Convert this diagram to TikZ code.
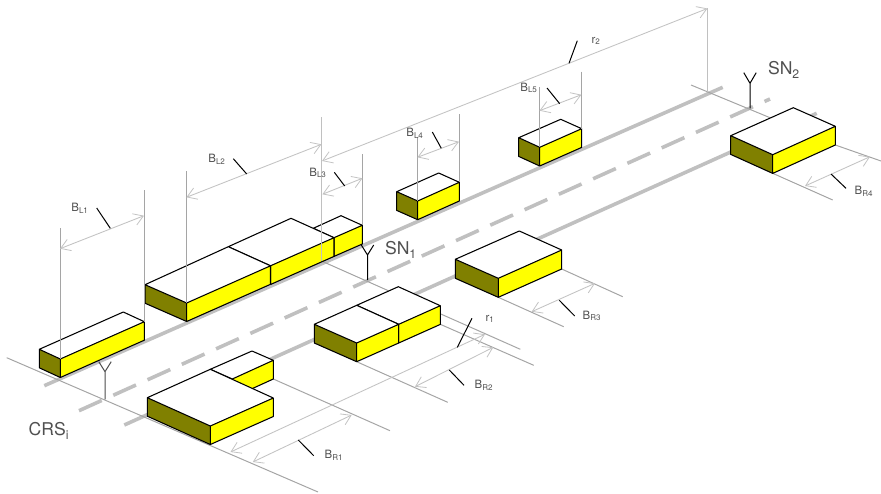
\documentclass[tikz,border=0pt]{standalone}
\usepackage{fontspec}
\setmainfont{TeX Gyre Heros}
\usetikzlibrary{arrows.meta}
\definecolor{olivef}{RGB}{128,128,0}
\definecolor{yellowf}{RGB}{255,255,0}
\definecolor{labelc}{RGB}{80,80,80}
\definecolor{roadc}{RGB}{192,192,192}
\definecolor{crossc}{RGB}{165,165,165}
\definecolor{dimc}{RGB}{195,195,195}
\tikzset{
  road/.style={draw=roadc,line width=2.7pt},
  roaddash/.style={road,dash pattern=on 18.7pt off 9.5pt},
  cross/.style={draw=crossc,line width=0.75pt},
  vert/.style={draw=crossc,line width=0.75pt},
  vertheavy/.style={draw=roadc,line width=1.1pt},
  dimline/.style={draw=dimc,line width=0.65pt,{Straight Barb[length=7pt,width=9pt,line width=0.6pt]}-{Straight Barb[length=7pt,width=9pt,line width=0.6pt]}},
  leader/.style={draw=black,line width=0.75pt},
  edge/.style={draw=black,line width=0.8pt,line join=round},
  big/.style={text=labelc,inner sep=0pt,font=\fontsize{13.2}{14}\selectfont},
  small/.style={text=labelc,inner sep=0pt,font=\fontsize{8.6}{9}\selectfont},
  ant/.style={draw=black,line width=0.75pt}
}
% full box: left-top, front-top, right-top, back-top, height
\newcommand{\boxthing}[9]{%
  \fill[yellowf] (#3,#4)--(#5,#6)--(#5,#6+#9)--(#3,#4+#9)--cycle;
  \fill[olivef] (#1,#2)--(#3,#4)--(#3,#4+#9)--(#1,#2+#9)--cycle;
  \fill[white] (#1,#2)--(#3,#4)--(#5,#6)--(#7,#8)--cycle;
  \draw[edge] (#1,#2)--(#3,#4)--(#5,#6)--(#7,#8)--cycle (#1,#2)--(#1,#2+#9)--(#3,#4+#9)--(#5,#6+#9)--(#5,#6) (#3,#4)--(#3,#4+#9);
}
% continuation block: the left face is hidden by the next block
\newcommand{\contthing}[9]{%
  \fill[yellowf] (#3,#4)--(#5,#6)--(#5,#6+#9)--(#3,#4+#9)--cycle;
  \fill[white] (#1,#2)--(#3,#4)--(#5,#6)--(#7,#8)--cycle;
  \draw[edge] (#1,#2)--(#3,#4)--(#5,#6)--(#7,#8)--cycle (#3,#4+#9)--(#5,#6+#9)--(#5,#6) (#3,#4)--(#3,#4+#9);
}
\newcommand{\ante}[4]{% x, bottom, junction, top
  \draw[ant] (#1,#2)--(#1,#3) (#1-6.2,#4)--(#1,#3)--(#1+6.2,#4);
}
\begin{document}
\begin{tikzpicture}[x=0.75pt,y=-0.75pt]
\useasboundingbox (0,0) rectangle (881,493);
% road
\draw[road] (44.3,385.7)--(722.7,87.3);
\draw[roaddash] (79,410.7)--(770,99);
\draw[road] (124.3,425)--(816.7,113.3);
% cross lines
\draw[cross] (6.7,357.7)--(318,492);
\draw[cross] (273.3,379)--(390,430.7);
\draw[cross] (356.7,361.7)--(447.7,402.3);
\draw[cross] (305.7,254)--(520.3,349.3);
\draw[cross] (440.3,324.3)--(533.7,365.3);
\draw[cross] (498.3,297.3)--(563.7,326.7);
\draw[cross] (561.7,269)--(622.7,296.7);
\draw[cross] (772.7,173.3)--(832.7,200);
\draw[cross] (835.3,145)--(881,161);
\draw[cross] (691,85)--(770,117.7);
% antennas
\draw[ant,draw=black!70] (105,399.3)--(105,371.7) (98.8,361.7)--(105,371.7)--(111.2,361.7);
\ante{367.5}{280}{255}{245}
\ante{750}{108.3}{83.3}{72.7}
% left side boxes
\boxthing{39.3}{349.3}{60.3}{359}{144.3}{321.7}{123.3}{312}{18.5}
\contthing{313.3}{228.3}{334}{237.7}{362.3}{225.3}{341}{215.7}{18.7}
\contthing{228.3}{246.7}{270.5}{265.8}{334}{237.7}{291}{218.3}{18.7}
\boxthing{145}{284.7}{186.7}{303}{270.5}{265.8}{228.3}{246.7}{18.5}
\boxthing{396.7}{191.7}{417.7}{201}{459.3}{182.3}{438.7}{173}{18.7}
\boxthing{518.7}{137.7}{539.7}{147.3}{581.7}{128.7}{560.7}{119.3}{18.7}
% right side boxes
\contthing{210.3}{369.3}{232.3}{379}{273.3}{360.3}{252}{351}{18.7}
\boxthing{147.3}{397.7}{210.3}{426}{273.3}{398}{210.3}{369.3}{18.5}
\contthing{356.7}{305.3}{398.7}{324.3}{440.3}{305.7}{398.3}{286.7}{18.7}
\boxthing{314.3}{324.3}{356.7}{343}{398.7}{324.3}{356.7}{305.3}{18.7}
\boxthing{455.3}{259.3}{498.3}{278.3}{561.7}{250}{519.3}{231}{19}
\boxthing{730.7}{135.7}{772.7}{154.7}{835.3}{126.3}{793.3}{107.7}{18.7}
% verticals
\draw[vert] (60.3,228)--(60.3,359);
\draw[vert] (144.3,190)--(144.3,321.7);
\draw[vert] (186.7,171)--(186.7,303);
\draw[vertheavy] (321.7,117.3)--(321.7,261);
\draw[vert] (362.7,154.3)--(362.7,225.3);
\draw[vert] (417.7,136.7)--(417.7,201);
\draw[vert] (459.3,114.3)--(459.3,182.3);
\draw[vert] (539.7,87.3)--(539.7,147.3);
\draw[vert] (581.7,71.7)--(581.7,128.7);
\draw[vertheavy] (707.7,8.3)--(707.7,92.3);
% dimension lines
\draw[dimline] (60,248.7)--(144,215.7);
\draw[dimline] (186.4,197.3)--(321.4,144.3);
\draw[dimline] (322,161)--(707.4,8.5);
\draw[dimline] (322.4,194.3)--(362.4,178.3);
\draw[dimline] (417.4,157.3)--(459,141.7);
\draw[dimline] (539.5,110.7)--(581.4,94.7);
\draw[dimline] (252.8,462)--(351.7,415);
\draw[dimline] (230.5,452)--(485,334.3);
\draw[dimline] (415,386.7)--(493.3,347.3);
\draw[dimline] (531.7,311.7)--(595,283.3);
\draw[dimline] (805,186)--(870,156.7);
% leaders
\draw[leader] (96.7,208)--(110.3,228.3);
\draw[leader] (233.3,158.7)--(246.7,174);
\draw[leader] (334.3,172.3)--(344.7,186);
\draw[leader] (432.3,132)--(441.3,148.3);
\draw[leader] (547,88)--(559.7,103.7);
\draw[leader] (577.3,40.7)--(569,63.3);
\draw[leader] (472,318.3)--(457.3,347.3);
\draw[leader] (449.3,370)--(464,385.3);
\draw[leader] (559.3,300.3)--(574.7,316);
\draw[leader] (831,174)--(846,188.3);
\draw[leader] (298.3,440)--(313.7,455.7);
% labels
\node[big] (crs) at (49,431) {CRS\textsubscript{i}};
\node[big] (sn1) at (401,250) {SN\textsubscript{1}};
\node[big] (sn2) at (784,70) {SN\textsubscript{2}};
\node[small] (bl1) at (80,208) {B\textsubscript{L1}};
\node[small] (bl2) at (217,159) {B\textsubscript{L2}};
\node[small] (bl3) at (318,173) {B\textsubscript{L3}};
\node[small] (bl4) at (415,133) {B\textsubscript{L4}};
\node[small] (bl5) at (529,88) {B\textsubscript{L5}};
\node[small] (r2) at (596,41) {r\textsubscript{2}};
\node[small] (r1) at (490,319) {r\textsubscript{1}};
\node[small] (br1) at (334,455) {B\textsubscript{R1}};
\node[small] (br2) at (484,385) {B\textsubscript{R2}};
\node[small] (br3) at (592,316) {B\textsubscript{R3}};
\node[small] (br4) at (864,191) {B\textsubscript{R4}};
\end{tikzpicture}
\end{document}
